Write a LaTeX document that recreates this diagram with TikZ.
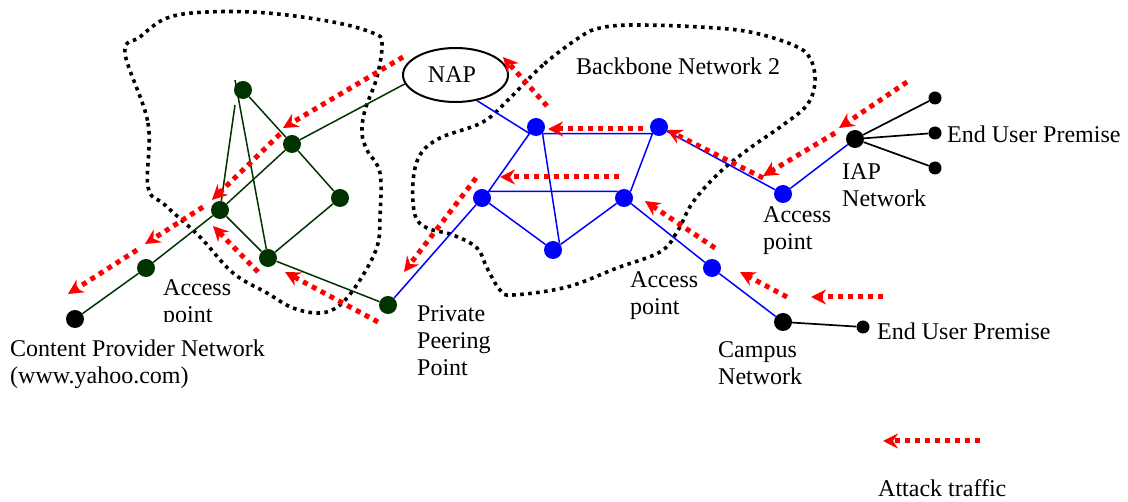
\documentclass[tikz,border=0pt]{standalone}
\usepackage{fontspec}
\setmainfont{Liberation Serif}
\usetikzlibrary{arrows.meta,shapes.geometric}
\definecolor{dgreen}{RGB}{0,51,0}
\newcommand{\ml}[1]{\vtop{\baselineskip=27pt\lineskiplimit=0pt\halign{##\hfil\cr #1\crcr}}}
\tikzset{
  gnode/.style={circle,fill=dgreen,inner sep=0pt,minimum size=18pt},
  bnode/.style={circle,fill=blue,inner sep=0pt,minimum size=18pt},
  knode/.style={circle,fill=black,inner sep=0pt,minimum size=18pt},
  snode/.style={circle,fill=black,inner sep=0pt,minimum size=13pt},
  gedge/.style={dgreen,line width=1.5pt},
  bedge/.style={blue,line width=1.5pt},
  kedge/.style={black,line width=1.7pt},
  cloudline/.style={black,line width=3.6pt,dash pattern=on 3.6pt off 4.4pt},
  attack/.style={red,line width=5pt,dash pattern=on 5pt off 5pt,
    -{Stealth[length=15pt,width=15pt,inset=5pt]}},
  lbl/.style={inner sep=0pt,anchor=base west,font=\fontsize{24}{27}\selectfont},
}
\begin{document}
\begin{tikzpicture}[x=1pt,y=-1pt]
\useasboundingbox (0,0) rectangle (1128,502);
% clouds
\draw[cloudline] plot[smooth cycle,tension=0.6] coordinates{
 (125,53) (148,123) (148,187) (165,205) (200,237) (233,273) (267,293) (293,308) (320,313)
 (340,305) (360,280) (377,247) (380,217) (380,173) (367,150) (362,133) (365,110)
 (377,77) (382,43) (373,33) (333,22) (267,13) (207,12) (167,18) (140,37)};
\draw[cloudline] plot[smooth cycle,tension=0.6] coordinates{
 (580,37) (543,65) (510,98) (483,122) (440,138) (420,155) (413,182) (415,215) (427,228)
 (453,235) (477,248) (487,268) (500,290) (513,295) (567,287) (617,268) (660,252)
 (677,232) (693,202) (720,172) (750,148) (783,125) (807,105) (815,82) (810,58)
 (793,45) (750,32) (700,27) (633,25) (600,28)};
% nodes
\node[draw,ellipse,line width=2pt,minimum width=105pt,minimum height=54pt,inner sep=0pt] (nap) at (455.5,75) {};
\node[gnode] (g1) at (243,90) {};
\node[gnode] (g2) at (292,144) {};
\node[gnode] (g3) at (340,198) {};
\node[gnode] (g4) at (220,210) {};
\node[gnode] (g5) at (268,258) {};
\node[gnode] (g6) at (146,268) {};
\node[gnode] (g7) at (388,305) {};
\node[knode] (cp) at (75,319) {};
\node[bnode] (b1) at (536,127) {};
\node[bnode] (b2) at (659,127) {};
\node[bnode] (b3) at (482,198) {};
\node[bnode] (b4) at (624,198) {};
\node[bnode] (b5) at (553,250) {};
\node[bnode] (b6) at (783,194) {};
\node[bnode] (b7) at (712,268) {};
\node[knode] (iap) at (855,139) {};
\node[knode] (campus) at (783,322) {};
\node[snode] (e1) at (935,98) {};
\node[snode] (e2) at (935,133) {};
\node[snode] (e3) at (935,168) {};
\node[snode] (e4) at (863,327) {};
\coordinate (t1) at (235,80);
\coordinate (t2) at (235,105);
% green edges
\draw[gedge] (g1) -- (g2);
\draw[gedge] (t1) -- (g5);
\draw[gedge] (t2) -- (g4);
\draw[gedge] (g2) -- (nap.190);
\draw[gedge] (g2) -- (g4);
\draw[gedge] (g2) -- (g3);
\draw[gedge] (g3) -- (g5);
\draw[gedge] (g4) -- (g5);
\draw[gedge] (g5) -- (g7);
\draw[gedge] (g4) -- (g6);
\draw[gedge] (g6) -- (cp);
% blue edges
\draw[bedge] (nap.-50) -- (b1.south west) -- (b3.north east) -- (b4.north west);
\draw[bedge] (b1.south east) -- (b2.south west) -- (b4.north east);
\draw[bedge] (b1.south east) -- (b5.north east);
\draw[bedge] (b3) -- (b5);
\draw[bedge] (b5) -- (b4);
\draw[bedge] (b2) -- (b6);
\draw[bedge] (b6) -- (iap);
\draw[bedge] (b4) -- (b7);
\draw[bedge] (b7) -- (campus);
\draw[bedge] (b3) -- (g7);
% black edges
\draw[kedge] (iap) -- (e1);
\draw[kedge] (iap) -- (e2);
\draw[kedge] (iap) -- (e3);
\draw[kedge] (campus) -- (e4);
% attack arrows
\coordinate (a1s) at (403,57);  \coordinate (a1e) at (283,128);
\coordinate (a2s) at (280,134); \coordinate (a2e) at (212,200);
\coordinate (a3s) at (203,207); \coordinate (a3e) at (145,244);
\coordinate (a4s) at (137,250); \coordinate (a4e) at (68,294);
\coordinate (a5s) at (378,322); \coordinate (a5e) at (285,272);
\coordinate (a6s) at (258,272); \coordinate (a6e) at (213,226);
\coordinate (a7s) at (547,106); \coordinate (a7e) at (503,57);
\coordinate (a8s) at (643,129); \coordinate (a8e) at (548,129);
\coordinate (a9s) at (619,177); \coordinate (a9e) at (500,177);
\coordinate (a10s) at (476,178); \coordinate (a10e) at (404,272);
\coordinate (a11s) at (907,82); \coordinate (a11e) at (839,128);
\coordinate (a12s) at (835,133); \coordinate (a12e) at (763,176);
\coordinate (a13s) at (763,178); \coordinate (a13e) at (667,130);
\coordinate (a14s) at (715,248); \coordinate (a14e) at (645,201);
\coordinate (a15s) at (787,297); \coordinate (a15e) at (740,272);
\coordinate (a16s) at (883,297); \coordinate (a16e) at (811,297);
\coordinate (a17s) at (980,441); \coordinate (a17e) at (883,441);
\foreach \i in {1,...,17} {\draw[attack] (a\i s) -- (a\i e);}
% labels
\node[lbl,anchor=base] at (452,83) {NAP};
\node[lbl] (lbb) at (576,75) {Backbone Network 2};
\node[lbl] (leu1) at (947,143) {End User Premise};
\node[lbl] (liap) at (842,180) {\ml{IAP\cr Network}};
\node[lbl] (lap1) at (763,223) {\ml{Access\cr point}};
\node[lbl] (lap2) at (630,288) {\ml{Access\cr point}};
\node[lbl] (leu2) at (877,340) {End User Premise};
\node[lbl] (lcamp) at (718,358) {\ml{Campus\cr Network}};
\node[lbl] (lppp) at (417,322) {\ml{Private\cr Peering\cr Point}};
\node[lbl] (lcp) at (10,357) {\ml{Content Provider Network\cr (www.yahoo.com)}};
\node[lbl] (latt) at (878,497) {Attack traffic};
\begin{scope}
\clip (0,0) rectangle (1128,322);
\node[lbl] (lap3) at (163,296) {\ml{Access\cr point}};
\end{scope}
\end{tikzpicture}
\end{document}
